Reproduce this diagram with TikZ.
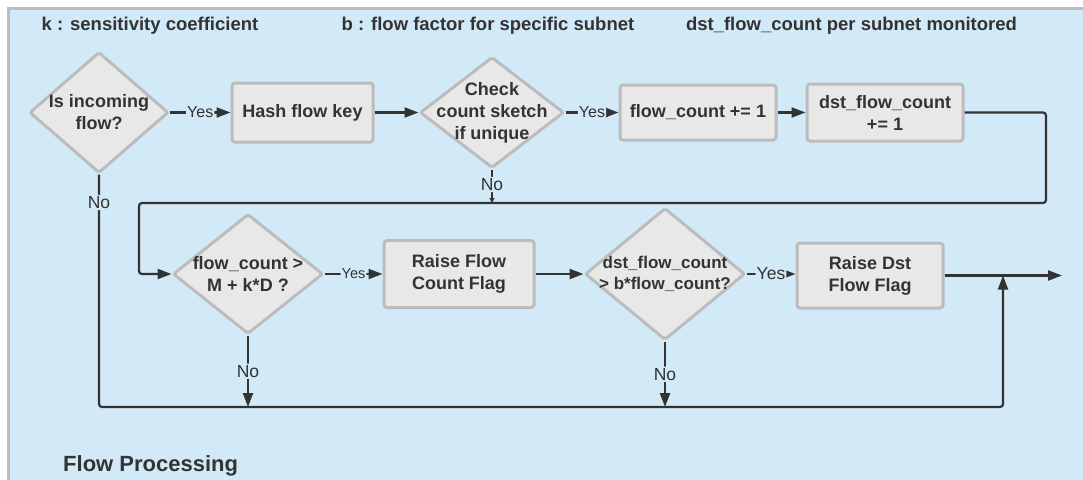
\documentclass[tikz,border=0pt]{standalone}
\usepackage{fontspec}
\setmainfont{Liberation Sans}
\usetikzlibrary{shapes.geometric,arrows.meta}

\definecolor{paneBlue}{RGB}{210,233,247}
\definecolor{ink}{RGB}{51,51,51}
\definecolor{boxFill}{RGB}{232,232,232}
\definecolor{boxLine}{RGB}{188,188,188}

\newcommand\fpHead{\fontsize{18.5}{22}\selectfont\bfseries}
\newcommand\fpNode{\fontsize{18}{22}\selectfont\bfseries}
\newcommand\fpTitle{\fontsize{22}{26}\selectfont\bfseries}
\newcommand\fpYes{\fontsize{16}{18}\selectfont}
\newcommand\fpNo{\fontsize{17.5}{20}\selectfont}

\begin{document}
\begin{tikzpicture}[x=1pt,y=-1pt,
  stepbox/.style={draw=boxLine, fill=boxFill, line width=3pt, rounded corners=3pt,
    inner sep=0pt, align=center, font=\fpNode, text=ink},
  dia/.style={shape=diamond, draw=boxLine, fill=boxFill, line width=3pt,
    rounded corners=2pt, inner sep=0pt},
  dtext/.style={align=center, font=\fpNode, text=ink, inner sep=0pt},
  conn/.style={draw=ink, line width=2.2pt, rounded corners=3pt,
    -{Triangle[length=14pt,width=10pt]}},
  yeslab/.style={fill=paneBlue, inner sep=1pt, font=\fpYes, text=ink},
  nolab/.style={fill=paneBlue, inner sep=1.5pt, font=\fpNo, text=ink},
  head/.style={font=\fpHead, text=ink, anchor=base, inner sep=0pt}
]
\useasboundingbox (0,0) rectangle (1083,479);
\fill[white] (0,0) rectangle (1083,479);

% swimlane panel
\begin{scope}
  \clip (0,0) rectangle (1083,479);
  \draw[draw=boxLine, line width=3pt, fill=paneBlue] (8.5,8.5) rectangle (1100,500);
\end{scope}

% legend line
\node[head] (hk) at (150,30) {k : sensitivity coefficient};
\node[head] (hb) at (488,30) {b : flow factor for specific subnet};
\node[head] (hd) at (851.5,30) {dst\_flow\_count per subnet monitored};
\node[font=\fpTitle, text=ink, anchor=base west, inner sep=0pt] (title) at (63,471) {Flow Processing};

% first row
\node[dia, minimum width=139pt, minimum height=121pt,
  label={[dtext]center:{Is incoming\\flow?}}] (d1) at (99,112.5) {};
\node[stepbox, minimum width=141pt, minimum height=59pt] (hash) at (302.5,112.5) {Hash flow key};
\node[dia, minimum width=144pt, minimum height=111pt,
  label={[dtext]center:{Check\\count sketch\\if unique}}] (chk) at (492,112.5) {};
\node[stepbox, minimum width=156pt, minimum height=55pt] (fc) at (698,112.5) {flow\_count += 1};
\node[stepbox, minimum width=156pt, minimum height=57pt] (dfc) at (885,112.5) {dst\_flow\_count\\+= 1};

% second row
\node[dia, minimum width=150pt, minimum height=120pt,
  label={[dtext]center:{flow\_count >\\M + k*D ?}}] (fcd) at (248,274) {};
\node[stepbox, minimum width=150pt, minimum height=67pt] (rff) at (459,274) {Raise Flow\\Count Flag};
\node[dia, minimum width=160pt, minimum height=132pt,
  label={[dtext, font=\fontsize{17}{21}\selectfont\bfseries]center:{dst\_flow\_count\\> b*flow\_count?}}] (dfd) at (665,274) {};
\node[stepbox, minimum width=146pt, minimum height=65pt] (rdf) at (870,275.5) {Raise Dst\\Flow Flag};

% routing points
\coordinate (lpA) at (1046,203);
\coordinate (lpB) at (139,203);
\coordinate (bot) at (99,407);
\coordinate (join) at (1003,407);
\coordinate (out) at (1062,275.5);

% connectors, first row
\draw[conn] (d1.east) -- node[yeslab] {Yes} (hash.west);
\draw[conn] (hash.east) -- (chk.west);
\draw[conn] (chk.east) -- node[yeslab] {Yes} (fc.west);
\draw[conn] (fc.east) -- (dfc.west);
\draw[conn, -{Triangle[length=5pt,width=5pt]}] (chk.south) -- node[nolab, pos=0.45] {No} (chk.south |- lpA);

% loop back to the threshold test
\draw[conn] (dfc.east) -| (lpA) -- (lpB) |- (fcd.west);

% second row
\draw[conn] (fcd.east) -- node[yeslab, font=\fontsize{14.5}{16}\selectfont] {Yes} (rff.west);
\draw[conn] (rff.east) -- (dfd.west);
\draw[conn] (dfd.east) -- node[yeslab, font=\fontsize{17.5}{20}\selectfont] {Yes} (dfd.east -| rdf.west);
\draw[conn] (rdf.east) -- (out);

% "No" branches down to the bottom bus
\draw[conn] (d1.south) -- node[nolab, pos=0.12] {No} (bot) -- (join) -- (join |- out);
\draw[conn] (fcd.south) -- node[nolab] {No} (fcd.south |- bot);
\draw[conn] (dfd.south) -- node[nolab] {No} (dfd.south |- bot);
\end{tikzpicture}
\end{document}
